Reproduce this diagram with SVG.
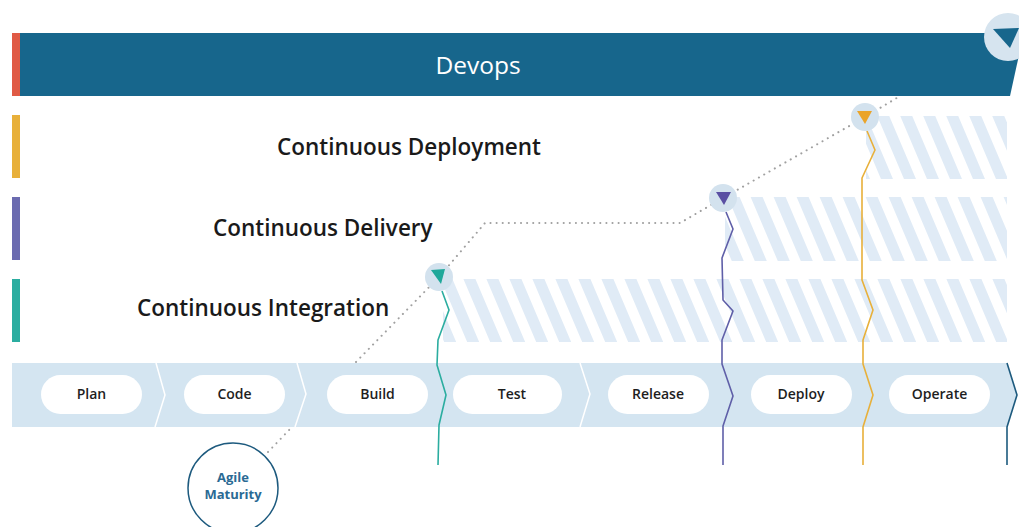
<svg xmlns="http://www.w3.org/2000/svg" width="1019" height="527" viewBox="0 0 1019 527">
<style>
.lbl{font-family:"Open Sans","Liberation Sans",sans-serif;font-weight:600;font-size:22.5px;fill:#1a1a1a}
.stage{font-family:"Open Sans","Liberation Sans",sans-serif;font-weight:600;font-size:14px;fill:#1e1e1e;text-anchor:middle}
.pill{fill:#ffffff}
.dots{fill:none;stroke:#a0a0a0;stroke-width:2;stroke-dasharray:0.1 6;stroke-linecap:round}
.ms{fill:#d3e2ee}
.zig{fill:none;stroke-width:1.6;stroke-linejoin:round}
</style>
<defs>
<pattern id="hatch" patternUnits="userSpaceOnUse" width="23" height="200" patternTransform="skewX(23)">
<rect x="0" y="0" width="23" height="200" fill="#ffffff"/>
<rect x="0" y="0" width="12" height="200" fill="#e0ebf6"/>
</pattern>
</defs>
<rect width="1019" height="527" fill="#ffffff"/>
<g id="devops">
<polygon points="12,33 1019,33 1019,55 1010,96 12,96" fill="#17668c"/>
<rect x="12" y="33" width="8" height="63" fill="#e05a45"/>
<text x="478" y="74" font-family="Open Sans, Liberation Sans, sans-serif" font-size="24.5" fill="#ffffff" text-anchor="middle">Devops</text>
</g>
<g id="hatches">
<rect x="866" y="116" width="141" height="63" fill="url(#hatch)"/>
<rect x="725" y="197" width="282" height="64" fill="url(#hatch)"/>
<rect x="443" y="279" width="564" height="63" fill="url(#hatch)"/>
</g>
<g id="cd-deployment">
<rect x="12" y="115" width="8" height="63" fill="#e8b03a"/>
<text class="lbl" x="277" y="155">Continuous Deployment</text>
</g>
<g id="cd-delivery">
<rect x="12" y="197" width="8" height="63" fill="#6b6bb0"/>
<text class="lbl" x="213" y="236">Continuous Delivery</text>
</g>
<g id="ci">
<rect x="12" y="279" width="8" height="63" fill="#2bada0"/>
<text class="lbl" x="137" y="316">Continuous Integration</text>
</g>
<g id="pipeline">
<polygon points="12,363 1007,363 1017,395 1007,427 12,427" fill="#d4e5f1"/>
<g fill="none" stroke="#ffffff" stroke-width="1.5">
<polyline points="156,363 165,395 155,427"/>
<polyline points="297,363 306,394 295,427"/>
<polyline points="580,363 590,394 580,427"/>
</g>
</g>
<g id="plan"><rect class="pill" x="41" y="375" width="101" height="39" rx="19.5"/><text class="stage" x="91.5" y="399">Plan</text></g>
<g id="code"><rect class="pill" x="184" y="375" width="101" height="39" rx="19.5"/><text class="stage" x="234.5" y="399">Code</text></g>
<g id="build"><rect class="pill" x="327" y="375" width="101" height="39" rx="19.5"/><text class="stage" x="377.5" y="399">Build</text></g>
<g id="test"><rect class="pill" x="453" y="375" width="109" height="39" rx="19.5"/><text class="stage" x="512" y="399">Test</text></g>
<g id="release"><rect class="pill" x="608" y="375" width="101" height="39" rx="19.5"/><text class="stage" x="658" y="399">Release</text></g>
<g id="deploy"><rect class="pill" x="751" y="375" width="101" height="39" rx="19.5"/><text class="stage" x="801" y="399">Deploy</text></g>
<g id="operate"><rect class="pill" x="889" y="375" width="101" height="39" rx="19.5"/><text class="stage" x="939.5" y="399">Operate</text></g>
<g id="connectors">
<polyline class="dots" points="268,452 291,428"/>
<polyline class="dots" points="356,362 439,277 485,223 680,223 723,198 865,117 900,96"/>
<polyline class="zig" stroke="#2bada0" points="442,291 449,310 438,340 437,365 446,395 439,425 438,465"/>
<polyline class="zig" stroke="#5f5fa8" points="726,212 733,229 722,258 723,300 733,311 722,340 722,364 733,396 723,426 723,465"/>
<polyline class="zig" stroke="#e8b03a" points="867,131 875,150 862,178 862,280 873,310 863,340 863,364 873,395 863,427 863,465"/>
<polyline class="zig" stroke="#1d5a7e" stroke-width="1.3" points="1007,363 1017,395 1007,427 1007,465"/>
</g>
<g id="milestone-ci">
<circle class="ms" cx="439" cy="277" r="14"/>
<polygon points="431,270 445,269 441,284" fill="#1fa89a"/>
</g>
<g id="milestone-delivery">
<circle class="ms" cx="723" cy="198" r="14"/>
<polygon points="716,192 731,192 724,205" fill="#5a4fa3"/>
</g>
<g id="milestone-deployment">
<circle class="ms" cx="865" cy="117" r="14"/>
<polygon points="857,111 872,111 865,124" fill="#eaa42a"/>
</g>
<g id="milestone-devops">
<circle cx="1008" cy="37" r="24" fill="#d6e4ef"/>
<polygon points="993,29 1019,28 1010,48" fill="#17668c"/>
</g>
<g id="agile-maturity">
<circle cx="233" cy="488" r="45" fill="#ffffff" stroke="#1d5a7e" stroke-width="1.5"/>
<text x="233" y="482" font-family="Open Sans, Liberation Sans, sans-serif" font-weight="700" font-size="13" fill="#2a6a94" text-anchor="middle">Agile</text>
<text x="233" y="499" font-family="Open Sans, Liberation Sans, sans-serif" font-weight="700" font-size="13" fill="#2a6a94" text-anchor="middle">Maturity</text>
</g>
</svg>
